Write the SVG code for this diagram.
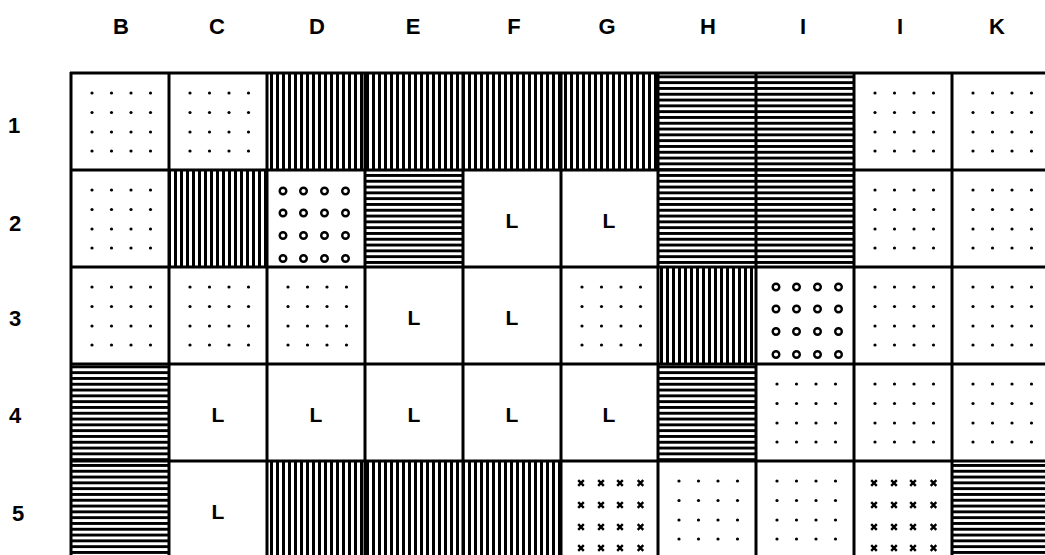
<svg xmlns="http://www.w3.org/2000/svg" xmlns:xlink="http://www.w3.org/1999/xlink" width="1045" height="555" viewBox="0 0 1045 555">
<style>
.lbl{font-family:"Liberation Sans","DejaVu Sans",sans-serif;font-weight:bold;font-size:22px;fill:#000;text-anchor:middle}
.cell{font-family:"Liberation Sans","DejaVu Sans",sans-serif;font-weight:bold;font-size:21px;fill:#000;text-anchor:middle}
.vh{fill:url(#vh)}
.hh{fill:url(#hh)}
.grid line{stroke:#000;stroke-width:3}
.dot{fill:#000}
.circ{fill:none;stroke:#000;stroke-width:2.4}
.x{stroke:#000;stroke-width:2.4;fill:none}
</style>
<defs>
<pattern id="vh" width="6" height="10" patternUnits="userSpaceOnUse"><rect x="0" y="0" width="3" height="10" fill="#000"/></pattern>
<pattern id="hh" width="10" height="5.8" patternUnits="userSpaceOnUse"><rect x="0" y="0" width="10" height="2.9" fill="#000"/></pattern>
<g id="dots">
<circle class="dot" cx="21" cy="20" r="1.6"/><circle class="dot" cx="40.5" cy="20" r="1.6"/><circle class="dot" cx="60" cy="20" r="1.6"/><circle class="dot" cx="79.5" cy="20" r="1.6"/>
<circle class="dot" cx="21" cy="39.5" r="1.6"/><circle class="dot" cx="40.5" cy="39.5" r="1.6"/><circle class="dot" cx="60" cy="39.5" r="1.6"/><circle class="dot" cx="79.5" cy="39.5" r="1.6"/>
<circle class="dot" cx="21" cy="59" r="1.6"/><circle class="dot" cx="40.5" cy="59" r="1.6"/><circle class="dot" cx="60" cy="59" r="1.6"/><circle class="dot" cx="79.5" cy="59" r="1.6"/>
<circle class="dot" cx="21" cy="78" r="1.6"/><circle class="dot" cx="40.5" cy="78" r="1.6"/><circle class="dot" cx="60" cy="78" r="1.6"/><circle class="dot" cx="79.5" cy="78" r="1.6"/>
</g>
<g id="circles">
<circle class="circ" cx="18" cy="21" r="3.3"/><circle class="circ" cx="38.5" cy="21" r="3.3"/><circle class="circ" cx="59.5" cy="21" r="3.3"/><circle class="circ" cx="80.5" cy="21" r="3.3"/>
<circle class="circ" cx="18" cy="43" r="3.3"/><circle class="circ" cx="38.5" cy="43" r="3.3"/><circle class="circ" cx="59.5" cy="43" r="3.3"/><circle class="circ" cx="80.5" cy="43" r="3.3"/>
<circle class="circ" cx="18" cy="65.5" r="3.3"/><circle class="circ" cx="38.5" cy="65.5" r="3.3"/><circle class="circ" cx="59.5" cy="65.5" r="3.3"/><circle class="circ" cx="80.5" cy="65.5" r="3.3"/>
<circle class="circ" cx="18" cy="88.5" r="3.3"/><circle class="circ" cx="38.5" cy="88.5" r="3.3"/><circle class="circ" cx="59.5" cy="88.5" r="3.3"/><circle class="circ" cx="80.5" cy="88.5" r="3.3"/>
</g>
<path id="xm" class="x" d="M-2.8,-2.8L2.8,2.8M2.8,-2.8L-2.8,2.8"/>
<g id="crosses">
<use xlink:href="#xm" x="20" y="22"/><use xlink:href="#xm" x="40" y="22"/><use xlink:href="#xm" x="59" y="22"/><use xlink:href="#xm" x="79.5" y="22"/>
<use xlink:href="#xm" x="20" y="44"/><use xlink:href="#xm" x="40" y="44"/><use xlink:href="#xm" x="59" y="44"/><use xlink:href="#xm" x="79.5" y="44"/>
<use xlink:href="#xm" x="20" y="66"/><use xlink:href="#xm" x="40" y="66"/><use xlink:href="#xm" x="59" y="66"/><use xlink:href="#xm" x="79.5" y="66"/>
<use xlink:href="#xm" x="20" y="87"/><use xlink:href="#xm" x="40" y="87"/><use xlink:href="#xm" x="59" y="87"/><use xlink:href="#xm" x="79.5" y="87"/>
</g>
</defs>
<rect width="1045" height="555" fill="#fff"/>

<g id="headers">
<text class="lbl" x="121" y="34">B</text>
<text class="lbl" x="217" y="34">C</text>
<text class="lbl" x="317" y="34">D</text>
<text class="lbl" x="413" y="34">E</text>
<text class="lbl" x="514" y="34">F</text>
<text class="lbl" x="607" y="34">G</text>
<text class="lbl" x="708" y="34">H</text>
<text class="lbl" x="803" y="34">I</text>
<text class="lbl" x="900" y="34">I</text>
<text class="lbl" x="997" y="34">K</text>
<text class="lbl" x="14" y="133">1</text>
<text class="lbl" x="15" y="231">2</text>
<text class="lbl" x="15" y="326">3</text>
<text class="lbl" x="15" y="423">4</text>
<text class="lbl" x="18" y="521">5</text>
</g>

<!-- row 1 -->
<g id="B1"><use xlink:href="#dots" x="71" y="73"/></g>
<g id="C1"><use xlink:href="#dots" x="169" y="73"/></g>
<g id="D1"><rect class="vh" x="267" y="73" width="98" height="97"/></g>
<g id="E1"><rect class="vh" x="365" y="73" width="98" height="97"/></g>
<g id="F1"><rect class="vh" x="463" y="73" width="98" height="97"/></g>
<g id="G1"><rect class="vh" x="561" y="73" width="97" height="97"/></g>
<g id="H1"><rect class="hh" x="658" y="73" width="98" height="97"/></g>
<g id="I1"><rect class="hh" x="756" y="73" width="98" height="97"/></g>
<g id="J1"><use xlink:href="#dots" x="854" y="73"/></g>
<g id="K1"><use xlink:href="#dots" x="952" y="73"/></g>

<!-- row 2 -->
<g id="B2"><use xlink:href="#dots" x="71" y="170"/></g>
<g id="C2"><rect class="vh" x="169" y="170" width="98" height="97"/></g>
<g id="D2"><use xlink:href="#circles" x="265" y="170"/></g>
<g id="E2"><rect class="hh" x="365" y="170" width="98" height="97"/></g>
<g id="F2"><text class="cell" x="512" y="228">L</text></g>
<g id="G2"><text class="cell" x="609" y="228">L</text></g>
<g id="H2"><rect class="hh" x="658" y="170" width="98" height="97"/></g>
<g id="I2"><rect class="hh" x="756" y="170" width="98" height="97"/></g>
<g id="J2"><use xlink:href="#dots" x="854" y="170"/></g>
<g id="K2"><use xlink:href="#dots" x="952" y="170"/></g>

<!-- row 3 -->
<g id="B3"><use xlink:href="#dots" x="71" y="267"/></g>
<g id="C3"><use xlink:href="#dots" x="169" y="267"/></g>
<g id="D3"><use xlink:href="#dots" x="267" y="267"/></g>
<g id="E3"><text class="cell" x="414" y="325">L</text></g>
<g id="F3"><text class="cell" x="512" y="325">L</text></g>
<g id="G3"><use xlink:href="#dots" x="561" y="267"/></g>
<g id="H3"><rect class="vh" x="658" y="267" width="98" height="97"/></g>
<g id="I3"><use xlink:href="#circles" x="758" y="266"/></g>
<g id="J3"><use xlink:href="#dots" x="854" y="267"/></g>
<g id="K3"><use xlink:href="#dots" x="952" y="267"/></g>

<!-- row 4 -->
<g id="B4"><rect class="hh" x="71" y="364" width="98" height="97"/></g>
<g id="C4"><text class="cell" x="218" y="422">L</text></g>
<g id="D4"><text class="cell" x="316" y="422">L</text></g>
<g id="E4"><text class="cell" x="414" y="422">L</text></g>
<g id="F4"><text class="cell" x="512" y="422">L</text></g>
<g id="G4"><text class="cell" x="609" y="422">L</text></g>
<g id="H4"><rect class="hh" x="658" y="364" width="98" height="97"/></g>
<g id="I4"><use xlink:href="#dots" x="756" y="364"/></g>
<g id="J4"><use xlink:href="#dots" x="854" y="364"/></g>
<g id="K4"><use xlink:href="#dots" x="952" y="364"/></g>

<!-- row 5 -->
<g id="B5"><rect class="hh" x="71" y="461" width="98" height="94"/></g>
<g id="C5"><text class="cell" x="218" y="519">L</text></g>
<g id="D5"><rect class="vh" x="267" y="461" width="98" height="94"/></g>
<g id="E5"><rect class="vh" x="365" y="461" width="98" height="94"/></g>
<g id="F5"><rect class="vh" x="463" y="461" width="98" height="94"/></g>
<g id="G5"><use xlink:href="#crosses" x="561" y="461"/></g>
<g id="H5"><use xlink:href="#dots" x="658" y="461"/></g>
<g id="I5"><use xlink:href="#dots" x="756" y="461"/></g>
<g id="J5"><use xlink:href="#crosses" x="854" y="461"/></g>
<g id="K5"><rect class="hh" x="952" y="461" width="93" height="94"/></g>

<g id="grid" class="grid">
<line x1="70" y1="73" x2="1045" y2="73"/>
<line x1="70" y1="170" x2="1045" y2="170"/>
<line x1="70" y1="267" x2="1045" y2="267"/>
<line x1="70" y1="364" x2="1045" y2="364"/>
<line x1="70" y1="461" x2="1045" y2="461"/>
<line x1="71" y1="72" x2="71" y2="555"/>
<line x1="169" y1="73" x2="169" y2="555"/>
<line x1="267" y1="73" x2="267" y2="555"/>
<line x1="365" y1="73" x2="365" y2="555"/>
<line x1="463" y1="73" x2="463" y2="555"/>
<line x1="561" y1="73" x2="561" y2="555"/>
<line x1="658" y1="73" x2="658" y2="555"/>
<line x1="756" y1="73" x2="756" y2="555"/>
<line x1="854" y1="73" x2="854" y2="555"/>
<line x1="952" y1="73" x2="952" y2="555"/>
</g>
</svg>
